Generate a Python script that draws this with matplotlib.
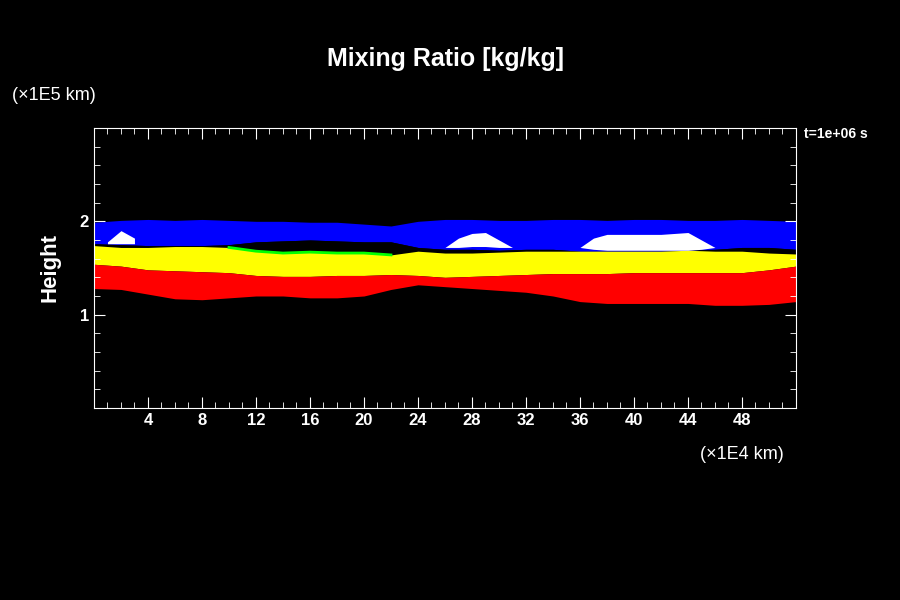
import matplotlib
matplotlib.use("Agg")
import matplotlib.pyplot as plt
import numpy as np
from matplotlib.ticker import MultipleLocator

plt.rcParams['font.family'] = ['Liberation Sans', 'DejaVu Sans']

x = [0, 2, 4, 6, 8, 10, 12, 14, 16, 18, 20, 22, 24, 26, 28, 30, 32, 34, 36, 38, 40, 42, 44, 46, 48, 50, 52]
blue_top = [1.99, 2.01, 2.02, 2.01, 2.02, 2.01, 2.0, 2.0, 1.99, 1.99, 1.97, 1.95, 2.0, 2.02, 2.02, 2.01, 2.01, 2.02, 2.02, 2.01, 2.02, 2.02, 2.01, 2.01, 2.02, 2.01, 2.0]
blue_bot = [1.76, 1.75, 1.74, 1.74, 1.74, 1.75, 1.78, 1.79, 1.8, 1.79, 1.78, 1.78, 1.72, 1.7, 1.7, 1.69, 1.7, 1.7, 1.68, 1.68, 1.68, 1.68, 1.69, 1.7, 1.72, 1.72, 1.7]
yel_top = [1.74, 1.72, 1.72, 1.73, 1.73, 1.72, 1.68, 1.66, 1.67, 1.66, 1.66, 1.64, 1.68, 1.66, 1.66, 1.67, 1.68, 1.68, 1.68, 1.68, 1.68, 1.68, 1.69, 1.68, 1.68, 1.66, 1.65]
yel_bot = [1.54, 1.52, 1.48, 1.47, 1.46, 1.45, 1.42, 1.41, 1.41, 1.42, 1.42, 1.43, 1.42, 1.4, 1.41, 1.42, 1.43, 1.44, 1.44, 1.44, 1.45, 1.45, 1.45, 1.45, 1.45, 1.48, 1.52]
red_bot = [1.28, 1.27, 1.22, 1.17, 1.16, 1.18, 1.2, 1.2, 1.18, 1.18, 1.2, 1.27, 1.32, 1.3, 1.28, 1.26, 1.24, 1.2, 1.14, 1.12, 1.12, 1.12, 1.12, 1.1, 1.1, 1.11, 1.14]

wx = [26, 27, 28, 29, 30, 31, 36, 37, 38, 40, 42, 44, 45, 46]
w_top = [1.72, 1.82, 1.87, 1.88, 1.8, 1.72, 1.72, 1.82, 1.86, 1.86, 1.86, 1.88, 1.8, 1.72]
w_bot = [1.72, 1.72, 1.73, 1.73, 1.72, 1.72, 1.72, 1.7, 1.69, 1.69, 1.69, 1.69, 1.7, 1.72]
w1x = [1, 2, 3]
w1_top = [1.78, 1.9, 1.82]
w1_bot = [1.76, 1.76, 1.76]

fig = plt.figure(figsize=(9, 6), dpi=100, facecolor="black")
ax = fig.add_axes([0.1044, 0.32, 0.78, 0.4667], facecolor="black")
ax.fill_between(x, blue_bot, blue_top, color="blue", lw=0)
ax.fill_between(x, yel_top, blue_bot, color="black", lw=0)
ax.fill_between(x, yel_bot, yel_top, color="yellow", lw=0)
ax.plot(x[5:12], yel_top[5:12], color="#00ff00", lw=2)
ax.fill_between(x, red_bot, yel_bot, color="red", lw=0)
ax.fill_between(wx[:6], w_bot[:6], w_top[:6], color="white", lw=0)
ax.fill_between(wx[6:], w_bot[6:], w_top[6:], color="white", lw=0)
ax.fill_between(w1x, w1_bot, w1_top, color="white", lw=0)

ax.set_xlim(0, 52)
ax.set_ylim(0, 3)
ax.set_xticks([4, 8, 12, 16, 20, 24, 28, 32, 36, 40, 44, 48])
ax.set_yticks([1, 2])
ax.xaxis.set_minor_locator(MultipleLocator(1))
ax.yaxis.set_minor_locator(MultipleLocator(0.2))
ax.tick_params(which="both", direction="in", colors="white", top=True, right=True,
               labelsize=12)
ax.tick_params(which="major", length=8)
ax.tick_params(which="minor", length=4)
for lab in ax.get_xticklabels() + ax.get_yticklabels():
    lab.set_fontweight("bold")
for s in ax.spines.values():
    s.set_color("white")
ax.set_ylabel("Height", color="white", fontsize=16, fontweight="bold", labelpad=14)
fig.text(0.495, 0.89, "Mixing Ratio [kg/kg]", color="white", fontsize=18,
         fontweight="bold", ha="center")
fig.text(0.013, 0.833, "(×1E5 km)", color="white", fontsize=13)
fig.text(0.778, 0.235, "(×1E4 km)", color="white", fontsize=13)
fig.text(0.893, 0.77, "t=1e+06 s", color="white", fontsize=10, fontweight="bold")
fig.savefig("out.png", facecolor="black")
